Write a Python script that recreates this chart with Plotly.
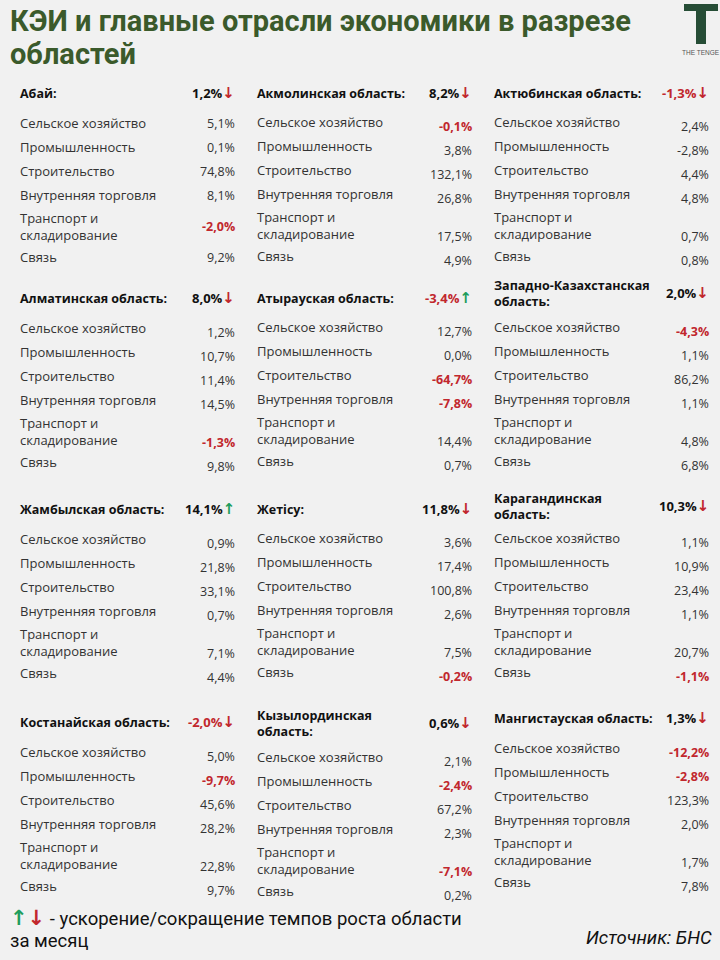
import plotly.graph_objects as go

# ---------------- data ----------------
regions = ["Абай:", "Акмолинская область:", "Актюбинская область:",
           "Алматинская область:", "Атырауская область:", "Западно-Казахстанская<br>область:",
           "Жамбылская область:", "Жетісу:", "Карагандинская<br>область:",
           "Костанайская область:", "Кызылординская<br>область:", "Мангистауская область:"]
totals = [1.2, 8.2, -1.3, 8.0, -3.4, 2.0, 14.1, 11.8, 10.3, -2.0, 0.6, 1.3]
trend = ["down", "down", "down", "down", "up", "down", "up", "down", "down", "down", "down", "down"]
sectors = ["Сельское хозяйство", "Промышленность", "Строительство",
           "Внутренняя торговля", "Транспорт и<br>складирование", "Связь"]
abay = [5.1, 0.1, 74.8, 8.1, -2.0, 9.2]
akmola = [-0.1, 3.8, 132.1, 26.8, 17.5, 4.9]
aktobe = [2.4, -2.8, 4.4, 4.8, 0.7, 0.8]
almaty = [1.2, 10.7, 11.4, 14.5, -1.3, 9.8]
atyrau = [12.7, 0.0, -64.7, -7.8, 14.4, 0.7]
zko = [-4.3, 1.1, 86.2, 1.1, 4.8, 6.8]
zhambyl = [0.9, 21.8, 33.1, 0.7, 7.1, 4.4]
zhetisu = [3.6, 17.4, 100.8, 2.6, 7.5, -0.2]
karaganda = [1.1, 10.9, 23.4, 1.1, 20.7, -1.1]
kostanay = [5.0, -9.7, 45.6, 28.2, 22.8, 9.7]
kyzylorda = [2.1, -2.4, 67.2, 2.3, -7.1, 0.2]
mangistau = [-12.2, -2.8, 123.3, 2.0, 1.7, 7.8]
values = [abay, akmola, aktobe, almaty, atyrau, zko, zhambyl, zhetisu,
          karaganda, kostanay, kyzylorda, mangistau]
not_highlighted = [(2, 1)]  # Актюбинская, Промышленность -2,8% shown plain

title_lines = ["КЭИ и главные отрасли экономики в разрезе", "областей"]
legend_lines = ["ускорение/сокращение темпов роста области", "за месяц"]
source = "Источник: БНС"

# ---------------- styling / layout geometry ----------------
BG = "#f1f1f1"
GREEN = "#3b5a2b"
RED = "#c1272d"
UPGREEN = "#1f9d5c"
TXT = "#333333"
FONT = "Open Sans"
TFONT = "Roboto"

col_label_x = [18, 255, 492]
col_value_x = [237, 474, 711]
header_y = [[93, 93, 93], [298, 298, 293], [509, 509, 506], [722, 723, 718]]
row_start = [[123, 122, 122], [328, 327, 327], [539, 538, 538], [752, 757, 748]]
row_off = [0, 24, 48, 72, 96, 134]


def fmt(v):
    return f"{v:.1f}".replace(".", ",") + "%"


fig = go.Figure()
ann = []


def add(x, y, text, size, color=TXT, xanchor="left", family=FONT, yanchor="middle"):
    ann.append(dict(x=x, y=y, xref="x", yref="y", text=text, showarrow=False,
                    xanchor=xanchor, yanchor=yanchor, align=xanchor if xanchor != "center" else "center",
                    font=dict(size=size, color=color, family=family)))


ARROW_STYLE = "font-family:DejaVu Sans;font-size:15px;font-weight:bold"

for i, reg in enumerate(regions):
    b, c = divmod(i, 3)
    lx, vx = col_label_x[c], col_value_x[c]
    hy = header_y[b][c]
    add(lx, hy, f"<b>{reg}</b>", 12.5, "#111111")
    tcol = RED if totals[i] < 0 else "#111111"
    arrow = "↓" if trend[i] == "down" else "↑"
    acol = RED if trend[i] == "down" else UPGREEN
    add(vx, hy, f"<span style='color:{tcol}'><b>{fmt(totals[i])}</b></span>"
                f"<span style='color:{acol};{ARROW_STYLE}'>{arrow}</span>", 13, tcol, "right")
    rs = row_start[b][c]
    for j, s in enumerate(sectors):
        ly = rs + row_off[j]
        if j == 4:
            add(lx, ly + 7, s, 13, TXT)
        else:
            add(lx, ly, s, 13, TXT)
        v = values[i][j]
        if b == 0 and c == 0:
            vy = ly + 7 if j == 4 else ly
        else:
            vy = ly + 4 + (14 if j == 4 else 0)
        if v < 0 and (i, j) not in not_highlighted:
            add(vx, vy, f"<b>{fmt(v)}</b>", 12.5, RED, "right")
        else:
            add(vx, vy, fmt(v), 12.5, TXT, "right")

# title
add(8, 21, f"<b>{title_lines[0]}</b>", 29, GREEN, "left", TFONT)
add(8, 54, f"<b>{title_lines[1]}</b>", 29, GREEN, "left", TFONT)
# legend footer
FOOT_ARROW = "font-family:DejaVu Sans;font-size:21px;font-weight:bold"
add(8, 918, f"<span style='color:{UPGREEN};{FOOT_ARROW}'>↑</span>"
    f"<span style='color:{RED};{FOOT_ARROW}'>↓</span> - " + legend_lines[0], 18.5, "#111111", "left", TFONT)
add(8, 941, legend_lines[1], 18.5, "#111111", "left", TFONT)
add(714, 938, f"<i>{source}</i>", 18.5, "#111111", "right", TFONT)
# logo text
add(701, 52, "THE TENGE", 6.5, "#555555", "center", "Liberation Sans")

fig.update_layout(
    width=720, height=960, margin=dict(l=0, r=0, t=0, b=0),
    paper_bgcolor=BG, plot_bgcolor=BG,
    xaxis=dict(range=[0, 720], visible=False, fixedrange=True),
    yaxis=dict(range=[960, 0], visible=False, fixedrange=True),
    annotations=ann, showlegend=False,
    shapes=[
        dict(type="rect", xref="x", yref="y", x0=684, x1=718, y0=4, y1=11,
             fillcolor="#264d36", line=dict(width=0)),
        dict(type="rect", xref="x", yref="y", x0=696, x1=706, y0=11, y1=44,
             fillcolor="#264d36", line=dict(width=0)),
    ],
)
fig.write_html("out.html", config={"displayModeBar": False},
               post_script="document.body.style.margin='0';document.body.style.background='%s';" % BG)
